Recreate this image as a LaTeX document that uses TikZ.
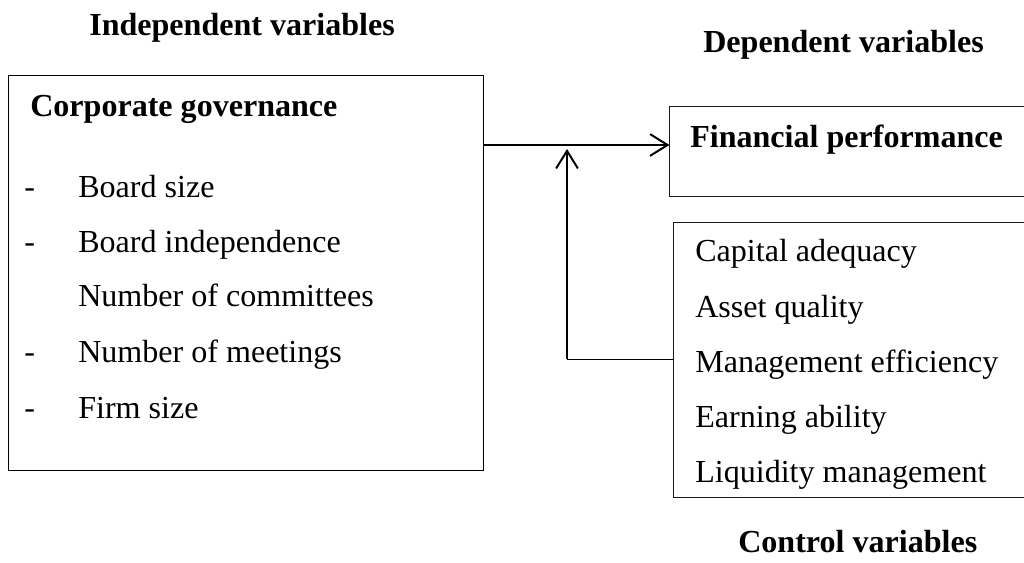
\documentclass[tikz,border=0pt]{standalone}
\usepackage{fontspec}
\setmainfont{Liberation Serif}
\usetikzlibrary{arrows.meta, positioning}
\tikzstyle{var_box}=[rectangle,
        draw=black,
        line width=0.7pt,
        inner sep=0pt]
\tikzstyle{var_text}=[anchor=base west,
        inner sep=0pt,
        font=\fontsize{22.8}{27}\selectfont]
\tikzstyle{var_head}=[var_text,
        font=\fontsize{22.8}{27}\selectfont\bfseries]
\tikzstyle{flow}=[line width=1.4pt,
        -{Straight Barb[length=12.5pt,width=15.5pt,line width=1.4pt]}]
\definecolor{LineColor}{rgb}{0.1,0.1,0.1}

\begin{document}
\begin{tikzpicture}[x=0.025cm, y=-0.025cm]
    \useasboundingbox (0,0) rectangle (1024,563);

    % boxes
    \node at (246, 273) (cg) [var_box, minimum width=11.85cm, minimum height=9.85cm] {};
    \node at (850, 151.5) (fp) [var_box, draw=LineColor, minimum width=9cm, minimum height=2.225cm] {};
    \node at (852, 360) (ctrl) [var_box, draw=LineColor, minimum width=8.9cm, minimum height=6.85cm] {};

    % headings
    \node at (89, 36) (indep) [var_head] {Independent variables};
    \node at (703, 53) (dep) [var_head] {Dependent variables};
    \node at (738, 552) (cv) [var_head] {Control variables};

    \node at (30, 117) (cg_title) [var_head] {Corporate governance};
    \node at (690, 148) (fp_title) [var_head] {Financial performance};

    \foreach \y/\txt [count=\i] in {198/Board size, 253/Board independence,
        307/Number of committees, 362/Number of meetings, 418/Firm size} {
        \node at (78, \y) (cg\i) [var_text] {\txt};
    }
    \foreach \y [count=\i] in {198, 253, 362, 418} {
        \node at (24, \y) (dash\i) [var_text] {-};
    }

    \foreach \y/\txt [count=\i] in {262/Capital adequacy, 318/Asset quality,
        372/Management efficiency, 427/Earning ability, 482/Liquidity management} {
        \node at (695, \y) (ctrl\i) [var_text] {\txt};
    }

    % connectors
    \coordinate (link) at (567, 145);
    \coordinate (turn) at (567, 359);
    \draw[flow] (cg.east |- link) -- (fp.west |- link);
    \draw[line width=0.7pt] (ctrl.west |- turn) -- (turn);
    \draw[flow] (turn) -- ([yshift=-0.1cm]link);

\end{tikzpicture}
\end{document}
